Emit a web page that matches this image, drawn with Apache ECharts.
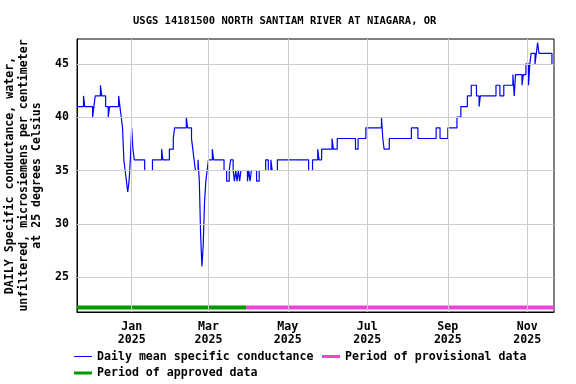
<!DOCTYPE html>
<html>
<head>
<meta charset="utf-8">
<script src="https://cdn.jsdelivr.net/npm/echarts@6/dist/echarts.min.js"></script>
<style>
  html, body { margin: 0; padding: 0; background: #fff; }
  #chart { width: 576px; height: 384px; }
</style>
</head>
<body>
<div id="chart"></div>
<script>
// daily mean specific conductance, only the days where the value changes (step line)
const changeDates = [
  '2024-11-20', '2024-11-25', '2024-11-26', '2024-12-02', '2024-12-03', '2024-12-04',
  '2024-12-08', '2024-12-09', '2024-12-12', '2024-12-14', '2024-12-15', '2024-12-22',
  '2024-12-23', '2024-12-24', '2024-12-25', '2024-12-26', '2024-12-27', '2024-12-28',
  '2024-12-29', '2024-12-30', '2024-12-31', '2025-01-01', '2025-01-02', '2025-01-03',
  '2025-01-11', '2025-01-17', '2025-01-24', '2025-01-25', '2025-01-30', '2025-02-02',
  '2025-02-03', '2025-02-12', '2025-02-13', '2025-02-16', '2025-02-17', '2025-02-18',
  '2025-02-19', '2025-02-21', '2025-02-22', '2025-02-23', '2025-02-24', '2025-02-25',
  '2025-02-26', '2025-02-27', '2025-02-28', '2025-03-01', '2025-03-04', '2025-03-05',
  '2025-03-13', '2025-03-15', '2025-03-17', '2025-03-18', '2025-03-20', '2025-03-21',
  '2025-03-22', '2025-03-23', '2025-03-24', '2025-03-25', '2025-03-26', '2025-03-31',
  '2025-04-01', '2025-04-02', '2025-04-03', '2025-04-07', '2025-04-09', '2025-04-14',
  '2025-04-16', '2025-04-18', '2025-04-19', '2025-04-23', '2025-05-17', '2025-05-20',
  '2025-05-24', '2025-05-25', '2025-05-27', '2025-06-04', '2025-06-05', '2025-06-08',
  '2025-06-22', '2025-06-24', '2025-06-30', '2025-07-12', '2025-07-13', '2025-07-14',
  '2025-07-18', '2025-08-04', '2025-08-09', '2025-08-23', '2025-08-26', '2025-09-01',
  '2025-09-08', '2025-09-11', '2025-09-16', '2025-09-19', '2025-09-23', '2025-09-25',
  '2025-09-26', '2025-10-08', '2025-10-11', '2025-10-14', '2025-10-21', '2025-10-22',
  '2025-10-23', '2025-10-28', '2025-10-29', '2025-10-31', '2025-11-02', '2025-11-03',
  '2025-11-04', '2025-11-07', '2025-11-08', '2025-11-09', '2025-11-10', '2025-11-20'
]
const changeValues = [
  41, 42, 41, 40, 41, 42,
  43, 42, 41, 40, 41, 42,
  41, 40, 39, 36, 35, 34,
  33, 34, 36, 39, 37, 36,
  35, 36, 37, 36, 37, 38,
  39, 40, 39, 38, 37, 36,
  35, 36, 34, 29, 26, 28,
  32, 34, 35, 36, 37, 36,
  35, 34, 35, 36, 35, 34,
  35, 34, 35, 34, 35, 34,
  35, 34, 35, 34, 35, 36,
  35, 36, 35, 36, 35, 36,
  37, 36, 37, 38, 37, 38,
  37, 38, 39, 40, 38, 37,
  38, 39, 38, 39, 38, 39,
  40, 41, 42, 43, 42, 41,
  42, 43, 42, 43, 44, 42,
  44, 43, 44, 45, 43, 45,
  46, 45, 46, 47, 46, 45
]
const approvedPeriod = ['2024-11-20', '2025-03-30']
const provisionalPeriod = ['2025-03-30', '2025-11-21 14:00']
const yTicks = [25, 30, 35, 40, 45]
const xTicks = ['2025-01-01', '2025-03-01', '2025-05-01', '2025-07-01', '2025-09-01', '2025-11-01']
const monthNames = ['Jan', 'Feb', 'Mar', 'Apr', 'May', 'Jun', 'Jul', 'Aug', 'Sep', 'Oct', 'Nov', 'Dec']

// 'yyyy-mm-dd[ hh:mm]' -> local timestamp
const toTime = (s) => {
  const p = s.split(/[- :]/).map(Number)
  return new Date(p[0], p[1] - 1, p[2], p[3] || 0, p[4] || 0).getTime()
}
const font = 'DejaVu Sans Mono'
const seriesName = 'Daily mean specific conductance'
const provName = 'Period of provisional data'
const apprName = 'Period of approved data'
const colors = { line: '#0000ff', approved: '#009900', provisional: '#ee44dd', grid: '#cccccc' }
const barLevel = 22.15
const thinIcon = 'path://M0,0H18V1H0Z'
const thickIcon = 'path://M0,0H18V3H0Z'

const chart = echarts.init(document.getElementById('chart'))
const legendText = { fontFamily: font, fontWeight: 'bold', fontSize: 11.6, color: '#000' }
const makeLegend = (left, top, name, icon, color) => ({
  left: left,
  top: top,
  padding: 0,
  itemWidth: 18,
  itemHeight: 4,
  selectedMode: false,
  textStyle: legendText,
  data: [{ name: name, icon: icon, itemStyle: { color: color, borderWidth: 0 } }]
})

const option = {
  animation: false,
  backgroundColor: '#fff',
  title: {
    text: 'USGS 14181500 NORTH SANTIAM RIVER AT NIAGARA, OR',
    left: 133,
    top: 16,
    padding: 0,
    textStyle: { fontFamily: font, fontWeight: 'bold', fontSize: 10.5, color: '#000' }
  },
  legend: [
    makeLegend(74, 350.5, seriesName, thinIcon, colors.line),
    makeLegend(322, 350.5, provName, thickIcon, colors.provisional),
    makeLegend(74, 367, apprName, thickIcon, colors.approved)
  ],
  grid: {
    left: 77,
    right: 22,
    top: 39,
    bottom: 72,
    outerBoundsMode: 'none',
    show: true,
    borderColor: '#000',
    borderWidth: 1
  },
  xAxis: {
    // timestamps on a value axis so the month labels can be placed exactly
    type: 'value',
    min: toTime('2024-11-20'),
    max: toTime(provisionalPeriod[1]),
    axisLine: { show: true, lineStyle: { color: '#000', width: 1 } },
    axisTick: { show: false },
    splitLine: { show: false },
    axisLabel: {
      customValues: xTicks.map(toTime),
      margin: 8,
      fontFamily: font,
      fontWeight: 'bold',
      fontSize: 11.6,
      lineHeight: 13.5,
      color: '#000',
      formatter: function (v) {
        const d = new Date(v)
        return monthNames[d.getMonth()] + '\n' + d.getFullYear()
      }
    }
  },
  yAxis: {
    type: 'value',
    min: 21.72,
    max: 47.34,
    name: 'DAILY Specific conductance, water,\nunfiltered, microsiemens per centimeter\nat 25 degrees Celsius',
    nameLocation: 'middle',
    nameRotate: 90,
    nameGap: 29,
    nameTextStyle: { fontFamily: font, fontWeight: 'bold', fontSize: 11.6, lineHeight: 13.5, color: '#000' },
    axisLine: { show: true, lineStyle: { color: '#000', width: 1 } },
    axisTick: { show: false },
    splitLine: { show: false },
    axisLabel: {
      customValues: yTicks,
      margin: 8,
      fontFamily: font,
      fontWeight: 'bold',
      fontSize: 11.6,
      color: '#000'
    }
  },
  series: [
    {
      // gridlines
      name: 'grid',
      type: 'line',
      z: 1,
      data: [],
      markLine: {
        silent: true,
        symbol: ['none', 'none'],
        label: { show: false },
        lineStyle: { color: colors.grid, width: 1, type: 'solid' },
        data: yTicks.map((v) => ({ yAxis: v })).concat(xTicks.map((t) => ({ xAxis: toTime(t) })))
      }
    },
    {
      name: apprName,
      type: 'line',
      z: 2,
      showSymbol: false,
      color: colors.approved,
      lineStyle: { color: colors.approved, width: 4 },
      data: approvedPeriod.map((t) => [toTime(t), barLevel])
    },
    {
      name: provName,
      type: 'line',
      z: 2,
      showSymbol: false,
      color: colors.provisional,
      lineStyle: { color: colors.provisional, width: 4 },
      data: provisionalPeriod.map((t) => [toTime(t), barLevel])
    },
    {
      name: seriesName,
      type: 'line',
      z: 3,
      step: 'end',
      showSymbol: false,
      color: colors.line,
      lineStyle: { color: colors.line, width: 1.2 },
      data: changeDates.map((t, i) => [toTime(t), changeValues[i]])
    }
  ]
}
chart.setOption(option)
</script>
</body>
</html>
